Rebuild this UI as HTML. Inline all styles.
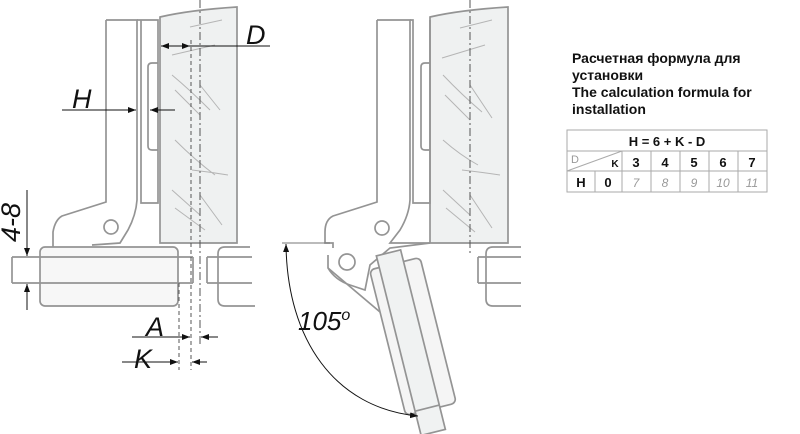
<!DOCTYPE html>
<html><head><meta charset="utf-8"><style>
html,body{margin:0;padding:0;background:#fff;}
svg{display:block;font-family:"Liberation Sans",sans-serif;}
</style></head><body>
<svg width="800" height="434" viewBox="0 0 800 434" xmlns="http://www.w3.org/2000/svg">
<defs>
<marker id="ar" markerWidth="8" markerHeight="6" refX="8" refY="3" orient="auto-start-reverse" markerUnits="userSpaceOnUse"><path d="M0,0 L8,3 L0,6z" fill="#111"/></marker>
</defs>
<g fill="none" stroke="#949494" stroke-width="1.7">
<!-- LEFT -->
<path d="M160,17 Q190,10 237,7 L237,243 L160,243 Z" fill="#eff1f1"/>
<g stroke="#b5b5b5" stroke-width="1">
<path d="M190,27 L222,20 M172,55 L215,45 M172,75 Q190,90 210,110 M175,90 L200,115 M200,85 L220,110 M175,140 Q195,160 215,175 M192,170 Q210,172 228,175 M172,190 L200,215 M175,208 L205,230 M200,195 L222,225"/>
</g>
<path d="M106,20 L137,20 L137,200 Q136,215 128,230 L120,243 L92,245 M106,20 L106,202 L62,216 Q55,220 53,232 L53,247"/>
<path d="M137,20 L141,20 L141,203 L158,203 L158,20 L141,20"/>
<path d="M158,63 L152,63 Q148,63 148,67 L148,146 Q148,150 152,150 L158,150"/>
<circle cx="111" cy="227" r="7"/>
<rect x="40" y="247" width="138" height="59" rx="5" fill="#f7f7f7"/>
<path d="M12,257 L193,257 M12,283 L193,283 M12,257 L12,283 M193,257 L193,283"/>
<path d="M250,247 L225,247 Q218,247 218,254 L218,299 Q218,306 225,306 L255,306 M207,257 L252,257 M207,283 L252,283 M207,257 L207,283"/>
<!-- MIDDLE -->
<path d="M430,17 Q460,10 508,7 L508,243 L430,243 Z" fill="#eff1f1"/>
<g stroke="#b5b5b5" stroke-width="1">
<path d="M460,28 L492,20 M442,58 L485,45 M443,75 Q462,95 482,112 M445,95 L470,120 M470,85 L492,118 M443,140 Q460,155 478,165 M462,170 Q480,172 500,175 M443,190 L470,215 M446,208 L475,232 M470,195 L492,228"/>
</g>
<path d="M377,20 L410,20 L410,200 Q409,215 400,230 L390,243 L430,243 M377,20 L377,202 L333,216 Q325,220 325,232 L325,243 L333,243 L333,248"/>
<path d="M410,20 L413,20 L413,203 L430,203 L430,20"/>
<path d="M430,63 L425,63 Q421,63 421,67 L421,146 Q421,150 425,150 L430,150"/>
<circle cx="382" cy="228" r="7"/>
<path d="M328,255 L328,268 Q335,280 350,285 L365,290 L370,265 L390,248 L430,243"/>
<circle cx="347" cy="262" r="8"/>
<path d="M328,268 L380,312"/>
<g transform="translate(388,253) rotate(-14)" fill="#f5f5f5">
<rect x="-22" y="12" width="52" height="150" rx="5"/>
<rect x="-12" y="0" width="25" height="185" fill="#f0f2f2"/>
<path d="M-12,160 L13,160"/>
</g>
<path d="M521,247 L493,247 Q486,247 486,254 L486,299 Q486,306 493,306 L521,306 M478,257 L521,257 M478,283 L521,283 M478,257 L478,283"/>
</g>
<!-- dashed lines -->
<g stroke="#555" stroke-width="1">
<path d="M179,283 L179,370" stroke-dasharray="4,3"/>
<path d="M191,40 L191,370" stroke-dasharray="4,3"/>
<path d="M200,0 L200,345" stroke-dasharray="8,3,2,3"/>
<path d="M470,0 L470,255" stroke-dasharray="8,3,2,3"/>
</g>
<!-- dimensions -->
<g stroke="#111" stroke-width="1" fill="none">
<path d="M270,46 L161,46" marker-end="url(#ar)"/>
<path d="M170,46 L190,46" marker-end="url(#ar)"/>
<path d="M62,110 L136,110" marker-end="url(#ar)"/>
<path d="M175,110 L150,110" marker-end="url(#ar)"/>
<path d="M27,190 L27,256" marker-end="url(#ar)"/>
<path d="M27,310 L27,284" marker-end="url(#ar)"/>
<path d="M132,337 L190,337" marker-end="url(#ar)"/>
<path d="M218,337 L201,337" marker-end="url(#ar)"/>
<path d="M122,362 L178,362" marker-end="url(#ar)"/>
<path d="M207,362 L192,362" marker-end="url(#ar)"/>
<path d="M282,243 L330,243" stroke="#777"/>
<path d="M286,244 C287,340 335,408 418,416" marker-start="url(#ar)" marker-end="url(#ar)"/>
</g>
<g font-style="italic" fill="#111" font-size="27">
<text x="246" y="44">D</text>
<text x="72" y="108">H</text>
<text x="146" y="336">A</text>
<text x="134" y="368">K</text>
<text transform="translate(20,242) rotate(-90)">4-8</text>
<text x="298" y="330" font-size="26">105<tspan font-size="16" dy="-10">o</tspan></text>
</g>
<g font-weight="bold" font-size="14" fill="#111" font-family="Liberation Sans, DejaVu Sans, sans-serif">
<text x="572" y="63">Расчетная формула для</text>
<text x="572" y="80">установки</text>
<text x="572" y="97">The calculation formula for</text>
<text x="572" y="114">installation</text>
</g>
<g stroke="#aaa" stroke-width="1" fill="none">
<rect x="567" y="130" width="200" height="62"/>
<path d="M567,151 L767,151 M567,171 L767,171 M622,151 L622,192 M595,171 L595,192 M651,151 L651,192 M680,151 L680,192 M709,151 L709,192 M738,151 L738,192 M567,171 L622,151"/>
</g>
<g font-weight="bold" font-size="13" text-anchor="middle" fill="#111">
<text x="667" y="146">H = 6 + K - D</text>
<text x="636" y="167">3</text><text x="665" y="167">4</text><text x="694" y="167">5</text><text x="723" y="167">6</text><text x="752" y="167">7</text>
<text x="581" y="187">H</text><text x="608" y="187">0</text>
<text x="575" y="163" fill="#999" font-size="11" font-weight="normal">D</text>
<text x="615" y="167" font-size="10">K</text>
</g>
<g font-style="italic" font-size="12" text-anchor="middle" fill="#999">
<text x="636" y="187">7</text><text x="665" y="187">8</text><text x="694" y="187">9</text><text x="723" y="187">10</text><text x="752" y="187">11</text>
</g>
</svg>
</body></html>
